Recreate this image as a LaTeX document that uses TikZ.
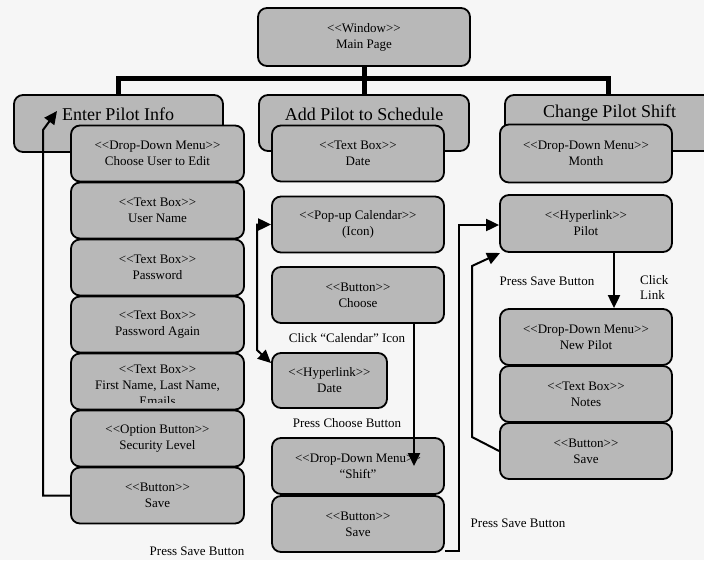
\documentclass[tikz,border=0pt]{standalone}
\usepackage{fontspec}
\setmainfont{Liberation Serif}
\usetikzlibrary{arrows.meta}
\definecolor{boxgray}{RGB}{184,184,184}
\definecolor{bgcol}{RGB}{246,246,246}
\tikzset{
  box/.style={draw=black, line width=1.8pt, fill=boxgray, rounded corners=9pt, inner sep=0pt, align=center, font=\fontsize{13}{16}\selectfont},
  colbox/.style={box, minimum width=173pt, minimum height=56pt},
  bus/.style={line width=5pt, line join=miter},
  tip/.style={Triangle[length=13pt,width=12pt]},
  conn/.style={line width=2pt, -{Triangle[length=13pt,width=12pt]}},
  lbl/.style={font=\fontsize{13}{15}\selectfont, inner sep=0pt, align=left},
  big/.style={font=\fontsize{18}{20}\selectfont, inner sep=0pt}
}
\begin{document}
\begin{tikzpicture}[x=1pt,y=-1pt]
\useasboundingbox (0,0) rectangle (704,560);
\clip (0,0) rectangle (704,560);
\fill[bgcol] (0,0) rectangle (704,560);

% main
\node[box, minimum width=212pt, minimum height=58pt] (main) at (364,37) {{<}{<}Window{>}{>}\\Main Page};
\coordinate (bar) at (364,78);
\draw[bus] (main.south) -- (bar);

% top boxes
\node[box, minimum width=209pt, minimum height=57pt] (enter) at (118.5,123.5) {};
\node[box, minimum width=210pt, minimum height=56pt] (add) at (364,123) {};
\node[box, minimum width=230pt, minimum height=56pt] (change) at (620,123) {};
\draw[bus] (enter.north) |- (bar) -| ([xshift=-12pt]change.north);
\draw[bus] (bar) -- (add.north);
\node[big] (entert) at (118,114) {Enter Pilot Info};
\node[big] (addt) at (364,114) {Add Pilot to Schedule};
\node[big] (changet) at (609.5,113) {Change Pilot Shift};

% left column
\node[colbox] (dduser) at (157.5,153.5) {{<}{<}Drop-Down Menu{>}{>}\\Choose User to Edit};
\node[colbox] (uname) at (157.5,210.5) {{<}{<}Text Box{>}{>}\\User Name};
\node[colbox] (pw) at (157.5,267.5) {{<}{<}Text Box{>}{>}\\Password};
\node[colbox] (pw2) at (157.5,324.5) {{<}{<}Text Box{>}{>}\\Password Again};
\node[colbox] (names) at (157.5,381.5) {};
\begin{scope}
\clip (71,355) rectangle (244,402);
\node[box, draw=none, fill=none] (namest) at (157.5,385) {{<}{<}Text Box{>}{>}\\First Name, Last Name,\\Emails};
\end{scope}
\node[colbox] (sec) at (157.5,438.5) {{<}{<}Option Button{>}{>}\\Security Level};
\node[colbox] (save1) at (157.5,495.5) {{<}{<}Button{>}{>}\\Save};

% middle column
\node[colbox, minimum width=172pt] (date) at (358,153.5) {{<}{<}Text Box{>}{>}\\Date};
\node[colbox, minimum width=172pt] (popup) at (358,224.5) {{<}{<}Pop-up Calendar{>}{>}\\(Icon)};
\node[colbox, minimum width=172pt] (choose) at (358,295) {{<}{<}Button{>}{>}\\Choose};
\node[colbox, minimum width=115pt, minimum height=55pt] (hdate) at (329.5,380.5) {{<}{<}Hyperlink{>}{>}\\Date};
\node[colbox, minimum width=172pt] (shift) at (358,466) {{<}{<}Drop-Down Menu{>}{>}\\“Shift”};
\node[colbox, minimum width=172pt] (save2) at (358,524) {{<}{<}Button{>}{>}\\Save};

% right column
\node[colbox, minimum width=172pt, minimum height=58pt] (month) at (586,153.5) {{<}{<}Drop-Down Menu{>}{>}\\Month};
\node[colbox, minimum width=172pt, minimum height=57pt] (pilot) at (586,223.5) {{<}{<}Hyperlink{>}{>}\\Pilot};
\node[colbox, minimum width=172pt] (npilot) at (586,337) {{<}{<}Drop-Down Menu{>}{>}\\New Pilot};
\node[colbox, minimum width=172pt] (notes) at (586,394) {{<}{<}Text Box{>}{>}\\Notes};
\node[colbox, minimum width=172pt] (save3) at (586,451) {{<}{<}Button{>}{>}\\Save};

% connectors
\coordinate (l1) at (43,130);
\coordinate (l2) at (57,111);
\draw[conn] (save1.west) -| (l1) -- (l2);

\coordinate (c1) at (257,350);
\coordinate (c2) at (271,363);
\draw[line width=2pt, {Triangle[length=13pt,width=12pt]}-{Triangle[length=13pt,width=12pt]}] (popup.west) -| (c1) -- (c2);

\coordinate (cx) at (414,0);
\coordinate (ct) at (414,466);
\draw[conn] (choose.south -| cx) -- (ct);

\draw[conn] ([yshift=2pt]save2.south east) -- ++(14,0) |- ([yshift=-1.5pt]pilot.west);

\coordinate (px) at (614,0);
\draw[conn] (pilot.south -| px) -- (npilot.north -| px);

\coordinate (r1) at (472,437);
\coordinate (r2) at (472,266);
\coordinate (r3) at (500,253);
\draw[conn] (save3.west) -- (r1) -- (r2) -- (r3);

% labels
\node[lbl] (lsave1) at (197,551) {Press Save Button};
\node[lbl] (lcal) at (347,338) {Click “Calendar” Icon};
\node[lbl] (lchoose) at (347,423) {Press Choose Button};
\node[lbl] (lsave3) at (547,281) {Press Save Button};
\node[lbl, anchor=west] (lclick) at (640,287) {Click\\Link};
\node[lbl] (lsave2) at (518,523) {Press Save Button};
\end{tikzpicture}
\end{document}
